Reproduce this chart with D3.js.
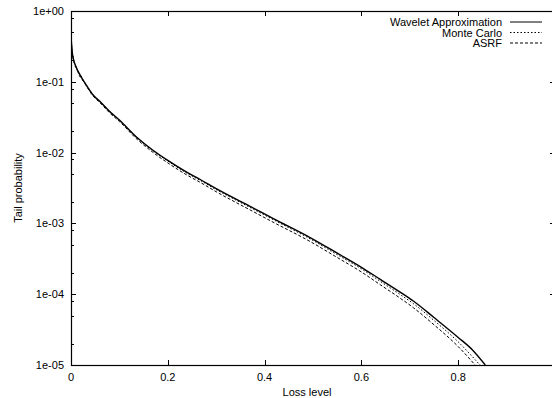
<!DOCTYPE html>
<html>
<head>
<meta charset="utf-8">
<script src="https://cdn.jsdelivr.net/npm/d3@7/dist/d3.min.js"></script>
<style>
    body { margin: 0; padding: 0; background: #fff; }
    svg { display: block; }
    text { font-family: "Liberation Sans", Arial, sans-serif; font-size: 11px; fill: #000; }
</style>
</head>
<body>
<script>
// tick labels
const xTicks = [0, 0.2, 0.4, 0.6, 0.8];
const yTicks = [1, 1e-1, 1e-2, 1e-3, 1e-4, 1e-5];
const yTickLabels = ['1e+00', '1e-01', '1e-02', '1e-03', '1e-04', '1e-05'];
const yMinorMult = [2, 5, 8];

// Wavelet Approximation
const waveLoss = [0, 0.002, 0.005, 0.01, 0.02, 0.03, 0.046, 0.06, 0.08, 0.1, 0.137, 0.17, 0.2, 0.24, 0.267, 0.3,
    0.37, 0.42, 0.494, 0.55, 0.6, 0.639, 0.68, 0.708, 0.75, 0.8, 0.83, 0.856];
const waveProb = [0.45, 0.282, 0.209, 0.166, 0.120, 0.0933, 0.0646, 0.0525, 0.0380, 0.0288, 0.0162, 0.0107, 0.00776,
    0.00525, 0.00417, 0.00309, 0.00174, 0.00115, 6.31e-4, 3.80e-4, 2.40e-4, 1.62e-4, 1.07e-4, 7.94e-5, 4.68e-5,
    2.45e-5, 1.62e-5, 1.0e-5];

// Monte Carlo
const mcLoss = [0, 0.002, 0.005, 0.008, 0.012, 0.016, 0.018, 0.02, 0.024, 0.03, 0.046, 0.06, 0.08, 0.1, 0.137, 0.17,
    0.2, 0.24, 0.267, 0.3, 0.37, 0.42, 0.494, 0.55, 0.6, 0.639, 0.68, 0.708, 0.75, 0.8, 0.845];
const mcProb = [0.46, 0.29, 0.215, 0.17, 0.150, 0.128, 0.118, 0.123, 0.108, 0.094, 0.0650, 0.0527, 0.0378, 0.0285,
    0.0160, 0.0105, 0.0076, 0.0051, 0.00405, 0.00300, 0.00168, 0.00111, 6.05e-4, 3.62e-4, 2.28e-4, 1.52e-4,
    9.9e-5, 7.3e-5, 4.25e-5, 2.12e-5, 1.0e-5];

// ASRF
const asrfLoss = [0, 0.002, 0.005, 0.01, 0.02, 0.03, 0.046, 0.06, 0.08, 0.1, 0.137, 0.17, 0.2, 0.24, 0.267, 0.3,
    0.37, 0.42, 0.494, 0.55, 0.6, 0.639, 0.68, 0.708, 0.75, 0.8, 0.835];
const asrfProb = [0.44, 0.27, 0.205, 0.163, 0.118, 0.0912, 0.0625, 0.0505, 0.0363, 0.0275, 0.0153, 0.0100, 0.00715,
    0.00480, 0.00380, 0.00280, 0.00155, 0.00102, 5.55e-4, 3.30e-4, 2.06e-4, 1.36e-4, 8.8e-5, 6.4e-5, 3.7e-5,
    1.82e-5, 1.0e-5];

const series = [
    { name: 'Wavelet Approximation', loss: waveLoss, prob: waveProb, dash: null, width: 1.4 },
    { name: 'Monte Carlo', loss: mcLoss, prob: mcProb, dash: '1.5,2', width: 1 },
    { name: 'ASRF', loss: asrfLoss, prob: asrfProb, dash: '3,2', width: 1 }
];

const W = 552, H = 398;
const pLeft = 71, pRight = 555, pTop = 11, pBottom = 365;

const svg = d3.select('body').append('svg')
    .attr('width', W)
    .attr('height', H);

const x = d3.scaleLinear().domain([0, 1]).range([pLeft, pRight]);
const y = d3.scaleLog().domain([1e-5, 1]).range([pBottom, pTop]);

svg.append('defs').append('clipPath').attr('id', 'plot')
    .append('rect')
    .attr('x', pLeft).attr('y', pTop)
    .attr('width', pRight - pLeft).attr('height', pBottom - pTop);

// ticks (mirrored on all sides, drawn inward)
const tickG = svg.append('g').attr('stroke', '#000').attr('stroke-width', 1);
xTicks.forEach(t => {
    const px = Math.round(x(t)) + 0.5;
    tickG.append('line').attr('x1', px).attr('x2', px).attr('y1', pBottom).attr('y2', pBottom - 5);
    tickG.append('line').attr('x1', px).attr('x2', px).attr('y1', pTop).attr('y2', pTop + 5);
});
const minor = [];
yTicks.slice(1).forEach(t => yMinorMult.forEach(m => minor.push(t * m)));
yTicks.forEach(t => {
    const py = Math.round(y(t)) + 0.5;
    tickG.append('line').attr('x1', pLeft).attr('x2', pLeft + 5).attr('y1', py).attr('y2', py);
    tickG.append('line').attr('x1', pRight).attr('x2', pRight - 5).attr('y1', py).attr('y2', py);
});
minor.forEach(t => {
    const py = Math.round(y(t)) + 0.5;
    tickG.append('line').attr('x1', pLeft).attr('x2', pLeft + 3).attr('y1', py).attr('y2', py);
    tickG.append('line').attr('x1', pRight).attr('x2', pRight - 3).attr('y1', py).attr('y2', py);
});

// border
svg.append('rect')
    .attr('x', pLeft + 0.5).attr('y', pTop + 0.5)
    .attr('width', pRight - pLeft).attr('height', pBottom - pTop)
    .attr('fill', 'none').attr('stroke', '#000').attr('stroke-width', 1.2);

// tick labels
svg.append('g').selectAll('text')
    .data(xTicks)
    .join('text')
    .attr('x', d => x(d))
    .attr('y', 381)
    .attr('text-anchor', 'middle')
    .text(d => d === 0 ? '0' : d3.format('.1f')(d));

svg.append('g').selectAll('text')
    .data(yTicks)
    .join('text')
    .attr('x', 64)
    .attr('y', d => y(d) + 4)
    .attr('text-anchor', 'end')
    .text((d, i) => yTickLabels[i]);

// axis titles
svg.append('text')
    .attr('x', 307).attr('y', 396)
    .attr('text-anchor', 'middle')
    .text('Loss level');

svg.append('text')
    .attr('transform', `translate(22, ${(pTop + pBottom) / 2}) rotate(-90)`)
    .attr('text-anchor', 'middle')
    .text('Tail probability');

// curves
const line = d3.line()
    .curve(d3.curveMonotoneX)
    .x(d => x(d[0]))
    .y(d => y(d[1]));

svg.append('g').attr('clip-path', 'url(#plot)')
    .selectAll('path')
    .data(series)
    .join('path')
    .attr('d', s => line(s.loss.map((l, i) => [l, s.prob[i]])))
    .attr('fill', 'none')
    .attr('stroke', '#000')
    .attr('stroke-width', s => s.width)
    .attr('stroke-dasharray', s => s.dash);

// legend
const legend = svg.append('g');
series.forEach((s, i) => {
    const ly = 22 + i * 10.5;
    legend.append('text')
        .attr('x', 502).attr('y', ly + 4)
        .attr('text-anchor', 'end')
        .text(s.name);
    legend.append('line')
        .attr('x1', 510).attr('x2', 542)
        .attr('y1', ly).attr('y2', ly)
        .attr('stroke', '#000')
        .attr('stroke-width', 1)
        .attr('stroke-dasharray', s.dash);
});
</script>
</body>
</html>
